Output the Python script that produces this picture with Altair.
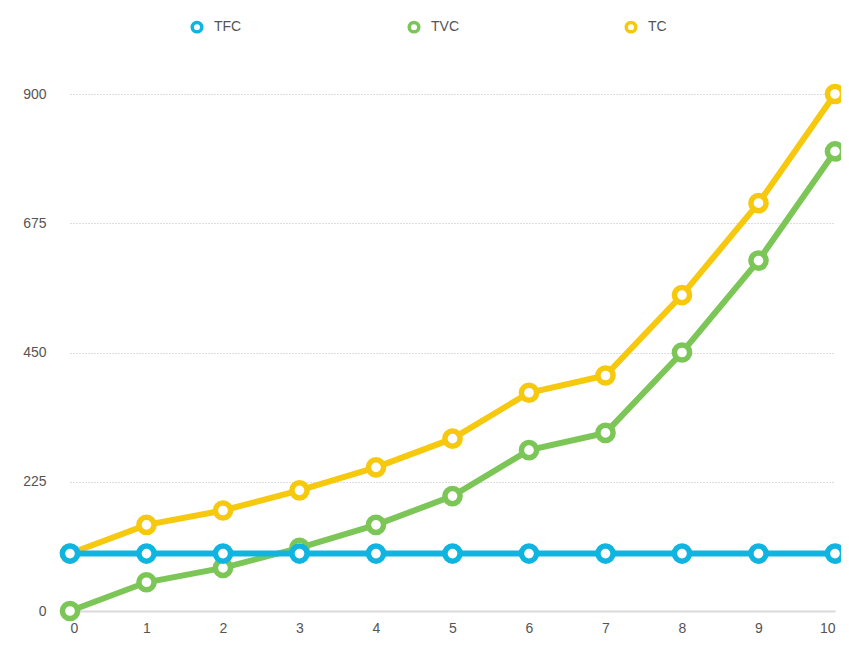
import altair as alt
import pandas as pd

quantity = [0, 1, 2, 3, 4, 5, 6, 7, 8, 9, 10]
tfc = [100, 100, 100, 100, 100, 100, 100, 100, 100, 100, 100]
tvc = [0, 50, 75, 110, 150, 200, 280, 310, 450, 610, 800]
tc = [100, 150, 175, 210, 250, 300, 380, 410, 550, 710, 900]
series_names = ["TFC", "TVC", "TC"]
series_colors = ["#0fb5e0", "#7cc657", "#f6c90e"]
y_ticks = [0, 225, 450, 675, 900]

rows = []
for name, vals in zip(series_names, [tfc, tvc, tc]):
    for q, v in zip(quantity, vals):
        rows.append({"Q": q, "value": v, "series": name})
df = pd.DataFrame(rows)

FONT = "Liberation Sans"

color = alt.Color(
    "series:N",
    scale=alt.Scale(domain=series_names, range=series_colors),
    legend=alt.Legend(
        title=None,
        orient="none",
        legendX=120,
        legendY=-74,
        direction="horizontal",
        symbolType="circle",
        symbolFillColor="white",
        symbolStrokeWidth=3.5,
        symbolSize=90,
        labelFontSize=14,
        labelColor="#555555",
        labelFont=FONT,
        labelOffset=10,
        columnPadding=160,
    ),
)

x = alt.X(
    "Q:Q",
    scale=alt.Scale(domain=[0, 10], nice=False, zero=False),
    axis=alt.Axis(
        title=None,
        values=quantity,
        grid=False,
        ticks=False,
        domainColor="#d9d9d9",
        domainWidth=2,
        labelFontSize=14,
        labelColor="#555555",
        labelFont=FONT,
        labelPadding=10,
    ),
)
y = alt.Y(
    "value:Q",
    scale=alt.Scale(domain=[0, 900], nice=False),
    axis=alt.Axis(
        title=None,
        values=y_ticks,
        domain=False,
        ticks=False,
        gridDash=[1, 2],
        gridColor="#bdbdbd",
        gridWidth=1,
        labelFontSize=14,
        labelColor="#555555",
        labelFont=FONT,
        labelPadding=24,
    ),
)

base = alt.Chart(df)
layers = []
for name in reversed(series_names):
    layers.append(
        base.transform_filter(alt.datum.series == name)
        .mark_line(strokeWidth=6)
        .encode(x=x, y=y, color=color)
    )
    layers.append(
        base.transform_filter(alt.datum.series == name)
        .mark_point(filled=True, fill="white", size=230, strokeWidth=5.5, opacity=1)
        .encode(x=x, y=y, stroke=alt.Stroke("series:N", scale=alt.Scale(domain=series_names, range=series_colors), legend=None))
    )

chart = (
    alt.layer(*layers)
    .properties(
        width=765,
        height=517,
        autosize=alt.AutoSizeParams(type="none"),
        padding={"left": 62, "top": 86, "right": 6, "bottom": 27},
    )
    .configure_view(stroke=None)
)

chart.save("out.html", embed_options={"renderer": "svg", "actions": False})
